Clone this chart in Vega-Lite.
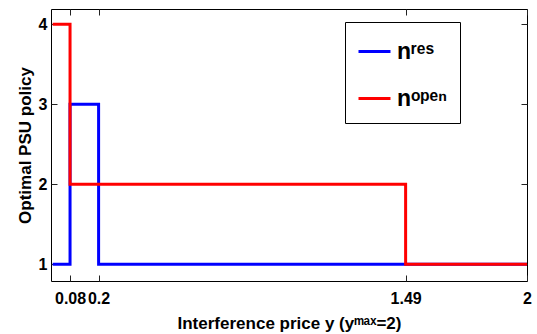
{
  "$schema": "https://vega.github.io/schema/vega-lite/v6.json",
  "autosize": {"type": "none"},
  "width": 476,
  "height": 272,
  "padding": {"left": 51, "top": 9, "right": 10, "bottom": 53},
  "background": "white",
  "config": {
    "view": {"stroke": "black", "strokeWidth": 1},
    "font": "Liberation Sans",
    "axis": {
      "grid": false,
      "domain": false,
      "tickSize": -6,
      "tickColor": "#222222",
      "labelFont": "Liberation Sans",
      "labelFontWeight": "bold",
      "labelFontSize": 16,
      "labelColor": "black",
      "titleFont": "Liberation Sans",
      "titleFontWeight": "bold",
      "titleFontSize": 17,
      "titleColor": "black"
    }
  },
  "data": {
    "values": [
      {"x": 0.007, "v": 1, "s": "nʳᵉˢ"},
      {"x": 0.08, "v": 3, "s": "nʳᵉˢ"},
      {"x": 0.2, "v": 1, "s": "nʳᵉˢ"},
      {"x": 2, "v": 1, "s": "nʳᵉˢ"},
      {"x": 0.007, "v": 4, "s": "nᵒᵖᵉⁿ"},
      {"x": 0.08, "v": 2, "s": "nᵒᵖᵉⁿ"},
      {"x": 1.49, "v": 1, "s": "nᵒᵖᵉⁿ"},
      {"x": 2, "v": 1, "s": "nᵒᵖᵉⁿ"}
    ]
  },
  "layer": [
    {
      "mark": {"type": "line", "interpolate": "step-after", "strokeWidth": 3, "clip": true},
      "encoding": {
        "x": {
          "field": "x", "type": "quantitative",
          "scale": {"domain": [0, 2], "nice": false, "zero": false},
          "axis": {
            "values": [0.08, 0.2, 1.49, 2],
            "format": ".3~g",
            "labelOverlap": false,
            "labelFlush": false,
            "labelPadding": 15,
            "title": "Interference price y (yᵐᵃˣ=2)",
            "titlePadding": 9
          }
        },
        "y": {
          "field": "v", "type": "quantitative",
          "scale": {"domain": [0.79, 4.19], "nice": false, "zero": false},
          "axis": {
            "values": [1, 2, 3, 4],
            "format": "d",
            "labelPadding": 10,
            "title": "Optimal PSU policy",
            "titlePadding": 4
          }
        },
        "color": {
          "field": "s", "type": "nominal", "sort": null,
          "scale": {"domain": ["nʳᵉˢ", "nᵒᵖᵉⁿ"], "range": ["#0000ff", "#ff0000"]},
          "legend": {
            "title": null,
            "orient": "none",
            "legendX": 294,
            "legendY": 13,
            "direction": "vertical",
            "strokeColor": "black",
            "fillColor": "white",
            "padding": 12,
            "symbolType": "stroke",
            "symbolSize": 1024,
            "symbolStrokeWidth": 3,
            "rowPadding": 17,
            "labelFont": "Liberation Sans",
            "labelFontWeight": "bold",
            "labelFontSize": 23,
            "labelColor": "black",
            "labelOffset": 5,
            "labelLimit": 200
          }
        }
      }
    },
    {
      "mark": {"type": "point", "opacity": 0},
      "encoding": {
        "x": {
          "field": "x", "type": "quantitative",
          "axis": {"orient": "top", "values": [0.08, 0.2, 1.49, 2], "labels": false, "title": null}
        },
        "y": {
          "field": "v", "type": "quantitative",
          "axis": {"orient": "right", "values": [1, 2, 3, 4], "labels": false, "title": null}
        }
      }
    }
  ],
  "resolve": {"axis": {"x": "independent", "y": "independent"}}
}
